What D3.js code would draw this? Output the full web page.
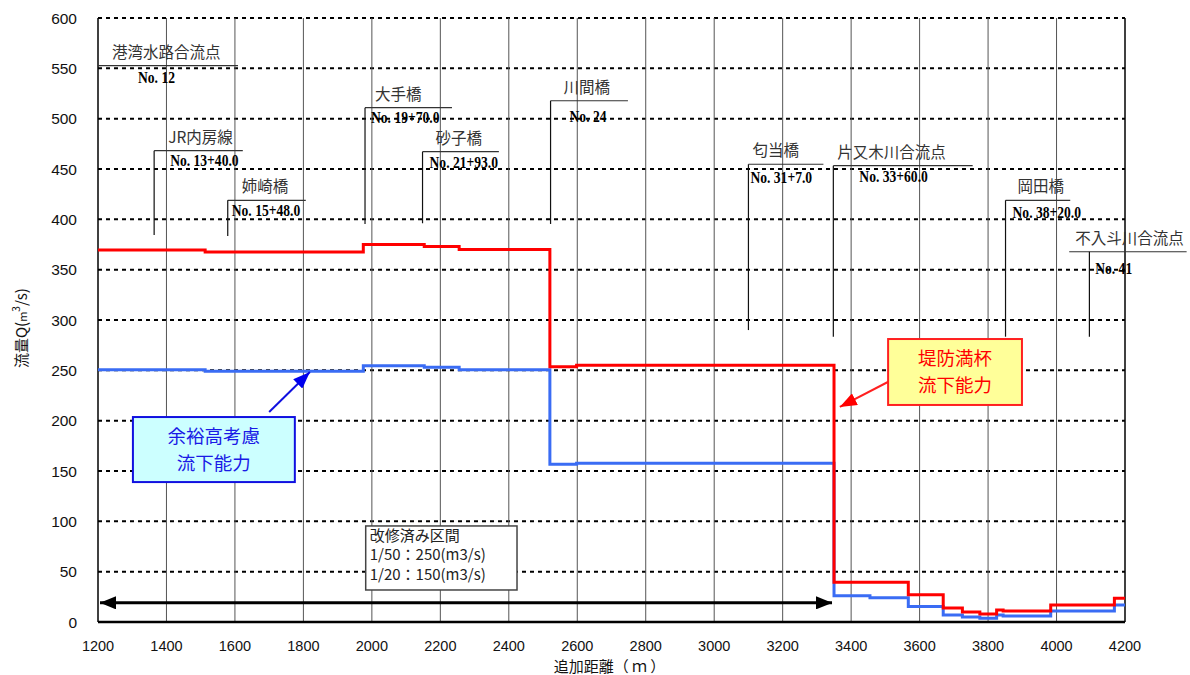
<!DOCTYPE html>
<html>
<head>
<meta charset="utf-8">
<script src="https://cdn.jsdelivr.net/npm/d3@7/dist/d3.min.js"></script>
<style>
	body { margin: 0; background: #fff; }
	text { font-family: "Noto Sans CJK JP", "Liberation Sans", sans-serif; }
	.tick_lbl { font-family: "Liberation Sans", Arial, sans-serif; fill: #111; }
	.no_lbl { font-family: "Liberation Serif", serif; font-weight: bold; font-size: 17px; fill: #000; }
</style>
</head>
<body>
<svg id="chart"></svg>
<script>
	'use strict';

	// axes
	var distTicks = [1200, 1400, 1600, 1800, 2000, 2200, 2400, 2600, 2800, 3000, 3200, 3400, 3600, 3800, 4000, 4200];
	var qTicks = [0, 50, 100, 150, 200, 250, 300, 350, 400, 450, 500, 550, 600];

	// 堤防満杯流下能力 (step start distances / Q)
	var bankDist = [1200, 1513, 1975, 2153, 2255, 2520, 2598, 3350, 3567, 3669, 3725, 3776, 3825, 3844, 3983, 4169, 4200];
	var bankQ    = [369.5, 367.5, 375, 373, 370, 253.5, 255, 39.5, 27, 14, 10, 8, 12, 11, 17, 23.5, 23.5];

	// 余裕高考慮流下能力
	var freeDist = [1200, 1513, 1975, 2153, 2255, 2520, 2598, 3350, 3455, 3567, 3669, 3725, 3776, 3825, 3844, 3983, 4169, 4200];
	var freeQ    = [250.5, 249, 254.5, 253, 250.5, 156.7, 157.7, 26, 24, 15.5, 7, 5, 3.7, 7, 6, 11, 17, 17];

	// station markers
	var stationNames = ['港湾水路合流点', 'JR内房線', '姉崎橋', '大手橋', '砂子橋', '川間橋', '匂当橋', '片又木川合流点', '岡田橋', '不入斗川合流点'];
	var stationNos   = ['No. 12', 'No. 13+40.0', 'No. 15+48.0', 'No. 19+70.0', 'No. 21+93.0', 'No. 24', 'No. 31+7.0', 'No. 33+60.0', 'No. 38+20.0', 'No. 41'];
	var stationDist  = [1200, 1364, 1579, 1980, 2148, 2522, 3100, 3348, 3851, 4096];
	var shelfStart   = [1200, 1364, 1579, 1980, 2148, 2522, 3100, 3348, 3851, 4037];
	var shelfEnd     = [1609, 1623, 1807, 2234, 2371, 2748, 3319, 3755, 4040, 4380];
	var shelfQ       = [552.6, 468.2, 418.9, 510.9, 467.2, 517.8, 454.7, 453.3, 418.9, 367.8];
	var leaderEndQ   = [552.6, 384.4, 383.4, 395.4, 396.1, 395.4, 290, 283.4, 283.4, 283.4];

	var improvedRange = [1200, 3350];
	var improvedNotes = ['改修済み区間', '1/50：250(m3/s)', '1/20：150(m3/s)'];

	var margin = {top: 18, right: 65, bottom: 53, left: 98};
	var width = 1190 - margin.left - margin.right,
		height = 675 - margin.top - margin.bottom;

	var x = d3.scaleLinear().domain([1200, 4200]).range([0, width]);
	var y = d3.scaleLinear().domain([0, 600]).range([height, 0]);

	var root = d3.select('#chart')
		.attr('width', 1190)
		.attr('height', 675);

	var defs = root.append('defs');
	function head(id, color, len, wid) {
		defs.append('marker')
			.attr('id', id)
			.attr('markerUnits', 'userSpaceOnUse')
			.attr('viewBox', '0 0 ' + len + ' ' + wid)
			.attr('refX', len).attr('refY', wid / 2)
			.attr('markerWidth', len).attr('markerHeight', wid)
			.attr('orient', 'auto-start-reverse')
			.append('path')
			.attr('d', 'M0,0L' + len + ',' + (wid / 2) + 'L0,' + wid + 'Z')
			.attr('fill', color);
	}
	head('head_black', '#000', 16, 13);
	head('head_red', '#ff0000', 17, 13);
	head('head_blue', '#0000ee', 17, 13);

	var svg = root.append('g')
		.attr('transform', 'translate(' + margin.left + ',' + margin.top + ')');

	// horizontal dotted grid
	svg.append('g').selectAll('line')
		.data(qTicks.filter(function(d) { return d > 0; }))
		.enter().append('line')
		.attr('x1', 0).attr('x2', width)
		.attr('y1', function(d) { return y(d); })
		.attr('y2', function(d) { return y(d); })
		.attr('stroke', '#000')
		.attr('stroke-width', 2)
		.attr('stroke-dasharray', '4,4');

	// vertical grid
	svg.append('g').selectAll('line')
		.data(distTicks.slice(1, -1))
		.enter().append('line')
		.attr('x1', function(d) { return x(d); })
		.attr('x2', function(d) { return x(d); })
		.attr('y1', 0).attr('y2', height)
		.attr('stroke', '#555')
		.attr('stroke-width', 1);

	// frame (left, right, bottom)
	svg.append('line').attr('x1', x(4200)).attr('x2', x(4200)).attr('y1', 0).attr('y2', height)
		.attr('stroke', '#000').attr('stroke-width', 1.5);
	svg.append('line').attr('x1', 0).attr('x2', 0).attr('y1', 0).attr('y2', height)
		.attr('stroke', '#000').attr('stroke-width', 1.5);
	svg.append('line').attr('x1', 0).attr('x2', width).attr('y1', height).attr('y2', height)
		.attr('stroke', '#000').attr('stroke-width', 2.5);

	// tick labels
	svg.append('g').selectAll('text')
		.data(distTicks)
		.enter().append('text')
		.attr('class', 'tick_lbl')
		.attr('x', function(d) { return x(d); })
		.attr('y', height + 29)
		.attr('text-anchor', 'middle')
		.style('font-size', '14.5px')
		.text(function(d) { return d; });

	svg.append('g').selectAll('text')
		.data(qTicks)
		.enter().append('text')
		.attr('class', 'tick_lbl')
		.attr('x', -21)
		.attr('y', function(d) { return y(d); })
		.attr('dy', '0.36em')
		.attr('text-anchor', 'end')
		.style('font-size', '15.5px')
		.text(function(d) { return d; });

	// axis titles
	svg.append('text')
		.attr('x', width / 2 - 2)
		.attr('y', height + 50)
		.attr('text-anchor', 'middle')
		.style('font-size', '15px')
		.attr('fill', '#111')
		.text('追加距離（ ｍ ）');

	var yt = svg.append('text')
		.attr('transform', 'translate(' + (-71) + ',' + (y(292)) + ') rotate(-90)')
		.attr('text-anchor', 'middle')
		.style('font-size', '15px')
		.attr('fill', '#111');
	yt.append('tspan').text('流量Q(');
	yt.append('tspan').style('font-size', '11px').text('m');
	yt.append('tspan').style('font-size', '10px').attr('dy', -7).text('3');
	yt.append('tspan').attr('dy', 7).text('/s)');

	// station markers
	var st = svg.append('g').selectAll('g')
		.data(stationNames.map(function(n, i) { return i; }))
		.enter().append('g');

	st.append('line')
		.attr('x1', function(i) { return x(shelfStart[i]); })
		.attr('x2', function(i) { return x(shelfEnd[i]); })
		.attr('y1', function(i) { return y(shelfQ[i]); })
		.attr('y2', function(i) { return y(shelfQ[i]); })
		.attr('stroke', '#333').attr('stroke-width', 1.2);

	st.append('line')
		.attr('x1', function(i) { return x(stationDist[i]); })
		.attr('x2', function(i) { return x(stationDist[i]); })
		.attr('y1', function(i) { return y(shelfQ[i]); })
		.attr('y2', function(i) { return y(leaderEndQ[i]); })
		.attr('stroke', '#111').attr('stroke-width', 1.2);

	var nameDx = [14, 14, 14, 10, 13, 13, 4, 4, 12, 6];
	var noDx = [40, 16, 4, 6, 7, 19, 2, 26, 7, 26];
	var noDy = [17, 15, 16, 15, 16, 21, 19, 16, 18, 22];

	st.append('text')
		.attr('x', function(i) { return x(shelfStart[i]) + nameDx[i]; })
		.attr('y', function(i) { return y(shelfQ[i]) - 8; })
		.style('font-size', '15.5px')
		.attr('fill', '#333')
		.text(function(i) { return stationNames[i]; });

	st.append('text')
		.attr('class', 'no_lbl')
		.attr('transform', function(i) {
			return 'translate(' + (x(shelfStart[i]) + noDx[i]) + ',' + (y(shelfQ[i]) + noDy[i]) + ') scale(0.8,1)';
		})
		.text(function(i) { return stationNos[i]; });

	// capacity step lines
	var stepLine = d3.line()
		.x(function(d) { return x(d[0]); })
		.y(function(d) { return y(d[1]); })
		.curve(d3.curveStepAfter);

	svg.append('path')
		.datum(freeDist.map(function(d, i) { return [d, freeQ[i]]; }))
		.attr('d', stepLine)
		.attr('fill', 'none')
		.attr('stroke', '#3a6cf4')
		.attr('stroke-width', 3);

	svg.append('path')
		.datum(bankDist.map(function(d, i) { return [d, bankQ[i]]; }))
		.attr('d', stepLine)
		.attr('fill', 'none')
		.attr('stroke', '#ff0000')
		.attr('stroke-width', 3);

	// improved section arrow + note
	svg.append('line')
		.attr('x1', x(improvedRange[0]) + 2).attr('x2', x(improvedRange[1]) - 2)
		.attr('y1', y(19)).attr('y2', y(19))
		.attr('stroke', '#000').attr('stroke-width', 3)
		.attr('marker-start', 'url(#head_black)')
		.attr('marker-end', 'url(#head_black)');

	svg.append('rect')
		.attr('x', x(1982)).attr('y', y(95.4))
		.attr('width', x(2424) - x(1982)).attr('height', y(31.8) - y(95.4))
		.attr('fill', '#fff').attr('stroke', '#444').attr('stroke-width', 1.5);

	var note = svg.append('text')
		.style('font-size', '15px')
		.attr('fill', '#222');
	note.selectAll('tspan')
		.data(improvedNotes)
		.enter().append('tspan')
		.attr('x', x(1982) + 4)
		.attr('y', function(d, i) { return y(95.4) + 15 + i * 19.5; })
		.text(function(d) { return d; });

	// callouts
	function callout(x0, x1, q0, q1, lines, fill, stroke, color, from, to, headId) {
		svg.append('line')
			.attr('x1', x(from[0])).attr('y1', y(from[1]))
			.attr('x2', x(to[0])).attr('y2', y(to[1]))
			.attr('stroke', stroke).attr('stroke-width', 2)
			.attr('marker-end', 'url(#' + headId + ')');
		svg.append('rect')
			.attr('x', x(x0)).attr('y', y(q0))
			.attr('width', x(x1) - x(x0)).attr('height', y(q1) - y(q0))
			.attr('fill', fill).attr('stroke', stroke).attr('stroke-width', 2);
		var cx = (x(x0) + x(x1)) / 2, cy = (y(q0) + y(q1)) / 2;
		var t = svg.append('text')
			.attr('text-anchor', 'middle')
			.style('font-size', '18.5px')
			.attr('fill', color);
		t.selectAll('tspan')
			.data(lines)
			.enter().append('tspan')
			.attr('x', cx)
			.attr('y', function(d, i) { return cy - 7 + i * 27; })
			.text(function(d) { return d; });
	}

	callout(1302, 1775, 203.6, 139, ['余裕高考慮', '流下能力'], '#ccffff', '#1010e0', '#1a1ae6',
		[1700, 208.6], [1819, 248.3], 'head_blue');
	callout(3508, 3899, 281.1, 215.6, ['堤防満杯', '流下能力'], '#ffff99', '#ff2020', '#ff0000',
		[3513, 239.4], [3367, 213.6], 'head_red');
</script>
</body>
</html>
